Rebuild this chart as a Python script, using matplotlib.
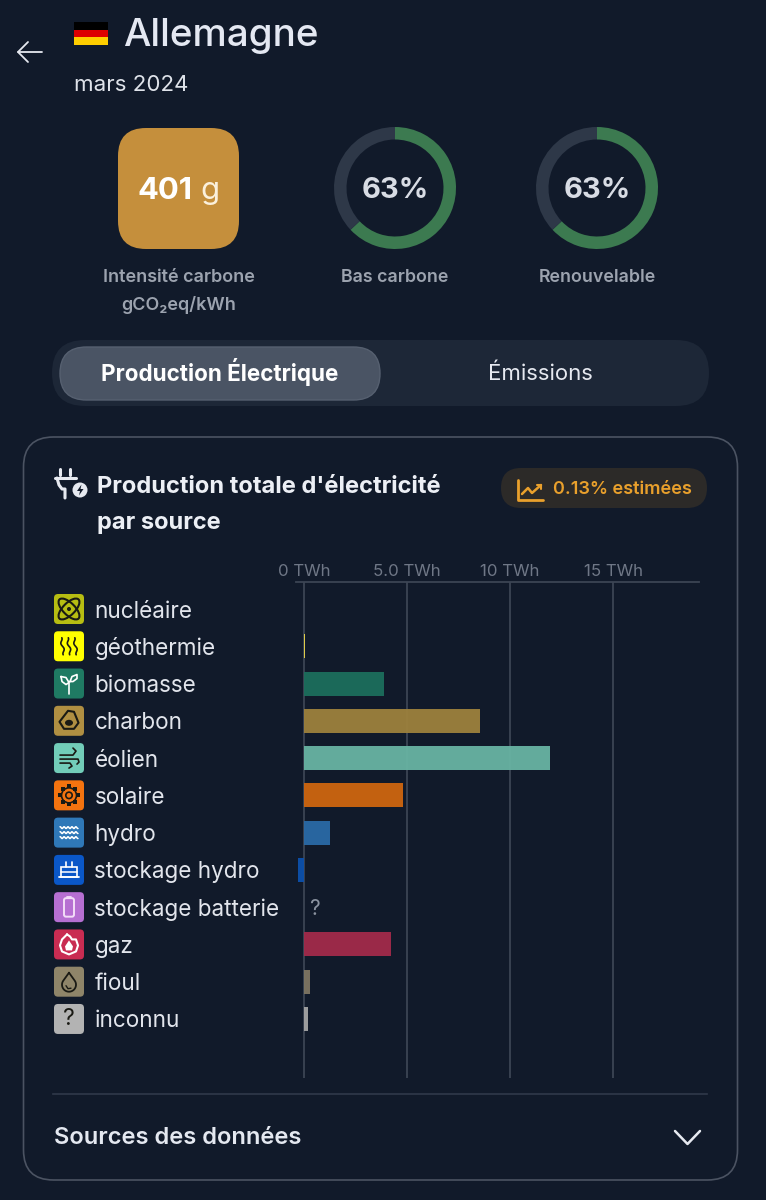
import numpy as np
import matplotlib
matplotlib.use('Agg')
import matplotlib.pyplot as plt
from matplotlib.patches import FancyBboxPatch, Rectangle, Ellipse, Circle, Polygon

plt.rcParams['font.family'] = ['Inter', 'DejaVu Sans']

# Data
sources = ['nucléaire', 'géothermie', 'biomasse', 'charbon', 'éolien', 'solaire', 'hydro',
           'stockage hydro', 'stockage batterie', 'gaz', 'fioul', 'inconnu']
production_twh = [0.0, 0.03, 3.88, 8.55, 11.95, 4.82, 1.27, -0.27, np.nan, 4.22, 0.27, 0.2]
icon_colors = ['#b7bd12', '#ffff00', '#1f7a63', '#b08f42', '#72cdb9', '#f4730f', '#2f78b8',
               '#0a57c8', '#b66fd2', '#c92c52', '#8f8569', '#b3b3b3']
bar_colors = ['#b7bd12', '#e8d44a', '#1c6e5c', '#9d813c', '#68b4a3', '#ce660f', '#2a6aa6',
              '#0c50ac', '#b66fd2', '#a22a4a', '#7e7663', '#a4a4a4']
x_ticks = [0, 5, 10, 15]
x_tick_labels = ['0 TWh', '5.0 TWh', '10 TWh', '15 TWh']
low_carbon_pct = 63
renewable_pct = 63

BG = '#111a2a'
W, H = 766, 1200
TEXT = '#e6e9f0'
GREY = '#9ca3af'
PX = 0.72  # font size in pt for 1 px at dpi 100

fig = plt.figure(figsize=(W / 100, H / 100), dpi=100, facecolor=BG)
ui = fig.add_axes([0, 0, 1, 1])
ui.set_xlim(0, W)
ui.set_ylim(H, 0)
ui.axis('off')


def rbox(x0, y0, x1, y1, r, fc='none', ec='none', lw=0, zorder=1):
    p = FancyBboxPatch((x0 + r, y0 + r), x1 - x0 - 2 * r, y1 - y0 - 2 * r,
                       boxstyle=f'round,pad={r},rounding_size={r}',
                       fc=fc, ec=ec, lw=lw, zorder=zorder)
    ui.add_patch(p)
    return p


def label(x, y, s, px, color=TEXT, weight='normal', ha='left', **kw):
    return ui.text(x, y, s, fontsize=px * PX, color=color, fontweight=weight,
                   ha=ha, va='center_baseline', **kw)


def line(xs, ys, color, lw=1.5, z=4):
    ui.plot(xs, ys, color=color, lw=lw, solid_capstyle='round', solid_joinstyle='round', zorder=z)


# header
line([18, 42], [52, 52], TEXT, 1.3)
line([28, 18, 28], [42, 52, 62], TEXT, 1.3)
ui.add_patch(Rectangle((74, 22), 34, 7.5, fc='#000000', zorder=2))
ui.add_patch(Rectangle((74, 29.5), 34, 7.5, fc='#dd0000', zorder=2))
ui.add_patch(Rectangle((74, 37), 34, 7.5, fc='#ffce00', zorder=2))
label(123, 32.5, 'Allemagne', 38.6, '#e4e8f2', 'medium')
label(74, 83, 'mars 2024', 22.3, '#dfe3ea')

# carbon intensity tile
rbox(118, 128, 239, 249, 28, fc='#c58f3c', zorder=2)
ui.text(165, 188, '401', fontsize=31 * PX, color='white', fontweight='bold',
        ha='center', va='center_baseline', zorder=3)
ui.text(210, 188, 'g', fontsize=31 * PX, color='#fbf0dc', ha='center', va='center_baseline', zorder=3)
label(178.5, 276, 'Intensité carbone', 18, GREY, 'semibold', ha='center')
label(178.5, 303, 'gCO₂eq/kWh', 18, GREY, 'semibold', ha='center')


# gauges drawn as pies
def gauge(cx, pct):
    r = 61
    ax = fig.add_axes([(cx - r) / W, 1 - (188 + r) / H, 2 * r / W, 2 * r / H])
    ax.pie([pct, 100 - pct], colors=['#3c7a50', '#2e3848'], startangle=90, counterclock=False,
           radius=1, wedgeprops={'width': 12.5 / r, 'linewidth': 0})
    ax.set_xlim(-1, 1)
    ax.set_ylim(-1, 1)
    ax.patch.set_alpha(0)
    label(cx, 188, f'{pct}%', 29, '#d8dce4', 'bold', ha='center')


gauge(395, low_carbon_pct)
gauge(597, renewable_pct)
label(395, 276, 'Bas carbone', 17.8, GREY, 'semibold', ha='center')
label(597, 276, 'Renouvelable', 17.8, GREY, 'semibold', ha='center')

# tabs
rbox(52, 340, 709, 406, 33, fc='#1d2737', zorder=1)
rbox(60, 347, 380, 400, 26.5, fc='#4a5464', ec='#566070', lw=1, zorder=2)
label(219.5, 370, 'Production Électrique', 22.4, 'white', 'bold', ha='center', zorder=3)
label(540.5, 372, 'Émissions', 22.2, '#e6e9f0', ha='center', zorder=3)

# card
rbox(23.5, 437, 737.5, 1180, 30, ec='#4b5362', lw=1.2, zorder=1)
label(97, 484.5, "Production totale d'électricité", 23.7, '#eceff5', 'bold')
label(97, 521, 'par source', 23.6, '#eceff5', 'bold')

# plug icon
line([60, 60], [469, 475], TEXT, 2.2)
line([70, 70], [469, 475], TEXT, 2.2)
line([55, 76], [477.5, 477.5], TEXT, 2.2)
line([57, 59, 62, 65, 65], [478, 485, 489, 489, 498], TEXT, 2.2)
ui.add_patch(Circle((80, 490), 7.5, fc=TEXT, ec='none', zorder=5))
ui.add_patch(Polygon([(81.5, 484.5), (77, 491), (80, 491), (79, 495.5), (83.5, 489), (80.5, 489)],
                     fc=BG, ec='none', zorder=6))

# estimated badge
rbox(501, 468, 707, 508, 20, fc='#2c2a28', zorder=2)
ORANGE = '#e9a02c'
line([518, 518, 543], [480, 500, 500], ORANGE, 2, z=5)
line([522, 528, 532, 541], [494, 488, 493, 485], ORANGE, 1.8, z=5)
line([537, 541, 541], [485, 485, 489], ORANGE, 1.5, z=5)
label(553, 488, '0.13% estimées', 18.1, ORANGE, 'semibold', zorder=3)

# footer
ui.plot([53, 707], [1094, 1094], color='#30394a', lw=1.2)
label(53.5, 1136, 'Sources des données', 23.7, '#e4e8f0', 'semibold')
line([675, 687.5, 700], [1131, 1144, 1131], TEXT, 1.8)

# chart, in data coordinates: 0 TWh at px 304, 20.6 px per TWh, one row every 37.27 px
left, right, top, bottom = 296, 699, 582, 1078
ax = fig.add_axes([left / W, 1 - bottom / H, (right - left) / W, (bottom - top) / H])
ax.patch.set_alpha(0)
ax.set_xlim((left - 304) / 20.6, (right - 304) / 20.6)
ax.set_ylim((bottom - 609) / 37.27, (top - 609) / 37.27)
ypos = np.arange(len(sources))
ax.barh(ypos, np.nan_to_num(production_twh), height=0.645, color=bar_colors, alpha=0.95, zorder=3)
ax.set_xticks(x_ticks, x_tick_labels)
ax.xaxis.tick_top()
ax.tick_params(axis='x', length=0, pad=2, labelsize=16.8 * PX, labelcolor='#6f7786')
ax.set_yticks([])
ax.grid(axis='x', color='#3c4554', lw=1.3, zorder=2)
for s in ['left', 'right', 'bottom']:
    ax.spines[s].set_visible(False)
ax.spines['top'].set_color('#3c4554')
ax.spines['top'].set_linewidth(1.3)
ax.text(0.25, 8.04, '?', fontsize=21 * PX, color='#8b93a0', ha='left', va='center')


# source icons and names
def icon(i, cx, cy):
    ink = '#1a1a14'
    w = 'white'
    if i == 0:
        for ang in (45, -45):
            ui.add_patch(Ellipse((cx, cy), 27, 12, angle=ang, fc='none', ec=ink, lw=1.5, zorder=4))
        ui.add_patch(Circle((cx, cy), 2, fc=ink, zorder=4))
    elif i == 1:
        t = np.linspace(-8.5, 8.5, 30)
        for dx in (-6.5, 0, 6.5):
            line(cx + dx + 1.1 * np.sin(t * 0.6) + t * 0.2, cy + t, ink, 1.2)
    elif i == 2:
        line([cx, cx], [cy + 10, cy - 1], w, 1.2)
        line([cx - 8, cx - 7, cx - 3, cx, cx - 3, cx - 8], [cy - 7, cy - 2, cy + 1, cy - 1, cy - 6, cy - 7], w, 1.2)
        line([cx + 1, cx + 3, cx + 8, cx + 8, cx + 4, cx + 1], [cy - 2, cy - 7, cy - 9, cy - 5, cy - 2, cy - 2], w, 1.2)
    elif i == 3:
        ui.add_patch(Polygon([(cx - 1, cy - 10), (cx + 5, cy - 9), (cx + 9.5, cy + 2), (cx + 5, cy + 8),
                              (cx - 5, cy + 8), (cx - 9.5, cy + 1)], fc='none', ec=ink, lw=1.5, joinstyle='round', zorder=4))
        ui.add_patch(Ellipse((cx, cy + 2), 8, 6, fc=ink, zorder=4))
    elif i == 4:
        line([cx - 9, cx + 4, cx + 7, cx + 4], [cy - 3, cy - 3, cy - 7, cy - 10], ink, 1.2)
        line([cx - 9, cx + 9, cx + 10, cx + 8], [cy + 1, cy + 1, cy + 4, cy + 6], ink, 1.2)
        line([cx - 9, cx + 1, cx + 3, cx], [cy + 5, cy + 5, cy + 8, cy + 10], ink, 1.2)
    elif i == 5:
        ang = np.linspace(0, 2 * np.pi, 9)[:-1]
        ui.scatter(cx + 9 * np.cos(ang), cy + 9 * np.sin(ang), s=6, marker='s', color=ink, zorder=4, lw=0)
        ui.add_patch(Circle((cx, cy), 7.5, fc='none', ec=ink, lw=1.2, zorder=4))
        ui.add_patch(Circle((cx, cy), 3.2, fc='none', ec=ink, lw=1.2, zorder=4))
    elif i == 6:
        t = np.linspace(-9, 9, 40)
        for dy in (-5, 0, 5):
            line(cx + t, cy + dy + 0.9 * np.sin(t * 1.6), w, 1.1)
    elif i == 7:
        ui.add_patch(Rectangle((cx - 8, cy - 3), 16, 10, fc='none', ec=w, lw=1.2, zorder=4))
        line([cx - 8, cx + 8], [cy + 2, cy + 2], w, 1.1)
        line([cx - 10, cx + 10], [cy + 7, cy + 7], w, 1.3)
        line([cx - 3, cx - 3], [cy - 8, cy - 3], w, 1.2)
        line([cx + 3, cx + 3], [cy - 8, cy - 3], w, 1.2)
    elif i == 8:
        rbox(cx - 5, cy - 9, cx + 5, cy + 9.5, 2, ec='#f3ddf8', lw=1.4, zorder=4)
        line([cx - 2, cx + 2], [cy - 10.5, cy - 10.5], '#f3ddf8', 1.3)
    elif i == 9:
        line([cx - 2, cx - 7, cx - 9, cx - 7, cx, cx + 7, cx + 9, cx + 7, cx + 3, cx + 1, cx - 2],
             [cy - 10, cy - 5, cy + 1, cy + 7, cy + 10, cy + 7, cy + 1, cy - 5, cy - 5, cy - 8, cy - 10], w, 1.5)
        ui.add_patch(Polygon([(cx - 4, cy + 2), (cx, cy - 4), (cx + 4, cy + 2), (cx + 3, cy + 6), (cx - 3, cy + 6)],
                             fc=w, ec='none', zorder=4))
    elif i == 10:
        a = np.linspace(-0.2 * np.pi, 1.2 * np.pi, 30)
        line(np.r_[cx, cx + 7 * np.cos(a), cx], np.r_[cy - 9, cy + 3 + 7 * np.sin(a), cy - 9], ink, 1.3)
        line([cx - 3, cx - 1, cx + 2], [cy + 4, cy + 7, cy + 6.5], ink, 1.0)
    elif i == 11:
        ui.text(cx, cy + 0.5, '?', fontsize=23 * PX, color=ink, ha='center', va='center', zorder=4)


for i, name in enumerate(sources):
    cy = 609 + 37.27 * i
    rbox(54, cy - 15, 84, cy + 15, 4, fc=icon_colors[i], zorder=2)
    icon(i, 69, cy)
    label(94.5, cy, name, 22.5, '#e2e5ec')

fig.savefig('out.png', dpi=100, facecolor=BG)
